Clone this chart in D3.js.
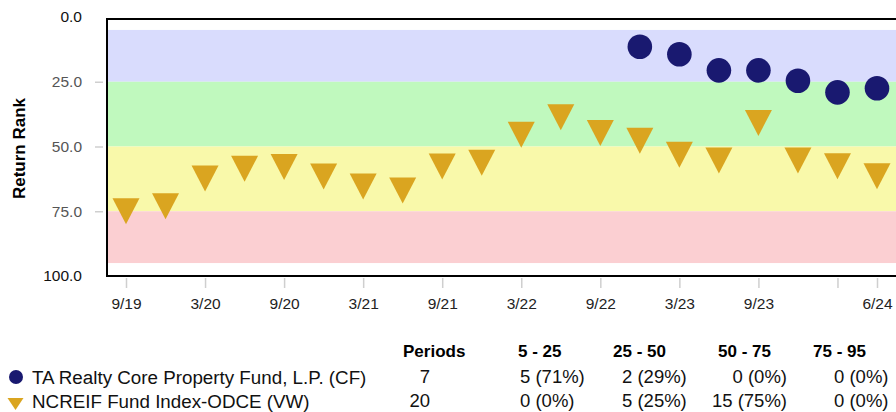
<!DOCTYPE html>
<html>
<head>
<meta charset="utf-8">
<script src="https://cdn.jsdelivr.net/npm/d3@7"></script>
<style>
  html, body { margin: 0; padding: 0; background: #fff; }
  svg { display: block; font-family: "Liberation Sans", Arial, Helvetica, sans-serif; }
</style>
</head>
<body>
<svg id="chart" width="896" height="412"></svg>
<script>
// ---------------- data ----------------
const quarters = ["9/19","12/19","3/20","6/20","9/20","12/20","3/21","6/21","9/21","12/21",
                  "3/22","6/22","9/22","12/22","3/23","6/23","9/23","12/23","3/24","6/24"];
const tickQuarters = ["9/19","3/20","9/20","3/21","9/21","3/22","9/22","3/23","9/23","3/24","6/24"];
const tickLabels   = ["9/19","3/20","9/20","3/21","9/21","3/22","9/22","3/23","9/23","","6/24"];
const yTickValues = [0, 25, 50, 75, 100];

const fundName = "TA Realty Core Property Fund, L.P. (CF)";
const fundQuarters = ["12/22","3/23","6/23","9/23","12/23","3/24","6/24"];
const fundRanks = [11.5, 14.4, 20.6, 20.6, 24.6, 29.1, 27.5];

const indexName = "NCREIF Fund Index-ODCE (VW)";
const indexRanks = [75.0, 73.1, 62.4, 58.6, 57.9, 61.6, 65.4, 67.0, 57.7, 56.3,
                    45.5, 38.7, 44.8, 47.8, 53.2, 55.4, 40.9, 55.4, 57.6, 61.5];

const bandLow  = [5, 25, 50, 75];
const bandHigh = [25, 50, 75, 95];

const tableHeaders = ["Periods", "5 - 25", "25 - 50", "50 - 75", "75 - 95"];
const fundPeriods = 7,  fundCounts  = [5, 2, 0, 0];
const indexPeriods = 20, indexCounts = [0, 5, 15, 0];

// ---------------- styles ----------------
const bandColors = ["#D9DCFD", "#C0F9BE", "#F9F9AA", "#FBCFD2"];
const fundColor = "#191970";
const indexColor = "#DAA520";

// ---------------- drawing ----------------
const svg = d3.select("#chart");
const plotLeft = 107, plotTop = 19, plotBottom = 276;

const x = d3.scalePoint().domain(quarters).range([126, 877]);
const y = d3.scaleLinear().domain([0, 100]).range([17, 276]);

// frame
svg.append("rect")
  .attr("x", plotLeft).attr("y", plotTop)
  .attr("width", 900).attr("height", plotBottom - plotTop)
  .attr("fill", "#fff").attr("stroke", "#000").attr("stroke-width", 2);

// bands
svg.append("g").selectAll("rect").data(bandLow).join("rect")
  .attr("x", plotLeft + 1)
  .attr("y", (d) => y(d))
  .attr("width", 896 - plotLeft)
  .attr("height", (d, i) => y(bandHigh[i]) - y(d))
  .attr("fill", (d, i) => bandColors[i]);

// y axis
const yAxis = svg.append("g")
  .attr("transform", `translate(${plotLeft - 4},0)`)
  .call(d3.axisLeft(y).tickValues(yTickValues).tickSize(8).tickPadding(13)
        .tickFormat(d3.format(".1f")));
yAxis.select(".domain").remove();
yAxis.selectAll(".tick line")
  .attr("stroke", "#cfcfcf").attr("stroke-width", 1.5)
  .attr("display", (d) => (d === 0 || d === 100) ? "none" : null);
yAxis.selectAll(".tick text")
  .attr("font-size", 15.5)
  .attr("font-family", "Liberation Sans, Arial, sans-serif")
  .attr("fill", (d) => (d === 0 || d === 100) ? "#111" : "#555");

// x axis
const xAxis = svg.append("g")
  .attr("transform", `translate(0,${plotBottom + 2})`)
  .call(d3.axisBottom(x).tickValues(tickQuarters).tickSize(10).tickPadding(10)
        .tickFormat((d) => tickLabels[tickQuarters.indexOf(d)]));
xAxis.select(".domain").remove();
xAxis.selectAll(".tick line").attr("stroke", "#cfcfcf").attr("stroke-width", 1.5);
xAxis.selectAll(".tick text")
  .attr("font-size", 15.5)
  .attr("font-family", "Liberation Sans, Arial, sans-serif")
  .attr("fill", "#222");

// y title
svg.append("text")
  .attr("transform", `translate(25,${(y(0) + y(100)) / 2 + 2}) rotate(-90)`)
  .attr("text-anchor", "middle")
  .attr("font-size", 17).attr("font-weight", "bold").attr("fill", "#000")
  .text("Return Rank");

// triangle path (pointing down, centred at bbox middle)
function triPath(w, h) {
  return `M${-w / 2},${-h / 2}L${w / 2},${-h / 2}L0,${h / 2}Z`;
}

// index markers
svg.append("g").selectAll("path").data(indexRanks).join("path")
  .attr("d", triPath(27, 26))
  .attr("transform", (d, i) => `translate(${x(quarters[i])},${y(d)})`)
  .attr("fill", indexColor);

// fund markers
svg.append("g").selectAll("circle").data(fundRanks).join("circle")
  .attr("cx", (d, i) => x(fundQuarters[i]))
  .attr("cy", (d) => y(d))
  .attr("r", 12.3)
  .attr("fill", fundColor);

// ---------------- table ----------------
const rowY = [351, 377, 401];
const headerX = [403, 518, 613, 718, 813];
const tbl = svg.append("g").attr("font-family", "Liberation Sans, Arial, sans-serif");

tbl.selectAll("text.hdr").data(tableHeaders).join("text")
  .attr("class", "hdr")
  .attr("x", (d, i) => headerX[i]).attr("y", rowY[0])
  .attr("dy", "0.35em")
  .attr("font-size", 17).attr("font-weight", "bold").attr("fill", "#000")
  .text((d) => d);

// legend symbols
tbl.append("circle").attr("cx", 16).attr("cy", rowY[1]).attr("r", 7).attr("fill", fundColor);
tbl.append("path").attr("d", triPath(16, 12))
  .attr("transform", `translate(15.5,${rowY[2] + 3})`).attr("fill", indexColor);

const rows = [
  { name: fundName, periods: fundPeriods, counts: fundCounts },
  { name: indexName, periods: indexPeriods, counts: indexCounts }
];
const colX = [430, 520, 622, 787, 834];
const colAnchor = ["end", "start", "start", "end", "start"];

rows.forEach((r, ri) => {
  const yy = rowY[ri + 1];
  tbl.append("text").attr("x", 32).attr("y", yy).attr("dy", "0.35em")
    .attr("font-size", 18.8).attr("fill", "#111").text(r.name);
  const cells = [String(r.periods)].concat(
    r.counts.map((c) => `${c} (${Math.round(100 * c / r.periods)}%)`));
  cells.forEach((c, ci) => {
    tbl.append("text").attr("x", colX[ci]).attr("y", yy).attr("dy", "0.35em")
      .attr("text-anchor", colAnchor[ci])
      .attr("font-size", 18.5).attr("fill", "#111").text(c);
  });
});
</script>
</body>
</html>
